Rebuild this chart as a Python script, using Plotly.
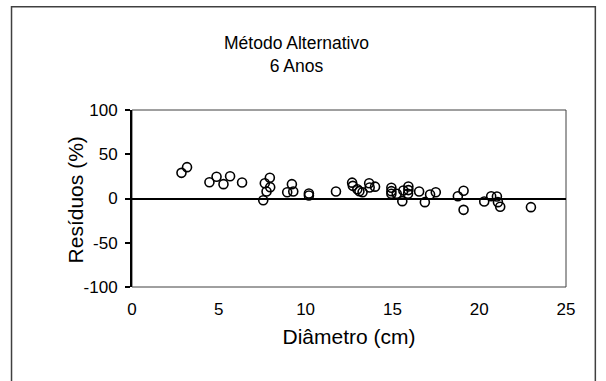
import plotly.graph_objects as go

# Diameter (cm) and residuals (%) of the alternative method, 6-year-old trees
diametro = [2.85, 3.17, 4.46, 4.87, 5.27, 5.65, 6.34, 7.56, 7.65, 7.75, 7.94, 7.96,
            8.94, 9.21, 9.29, 10.19, 10.19,
            11.75, 12.68, 12.72, 12.98, 13.10, 13.28, 13.66, 13.69, 14.00,
            14.94, 14.94, 14.94, 15.25, 15.57, 15.63, 15.92, 15.92, 15.90,
            16.54, 16.87, 17.17, 17.50, 18.77, 19.10, 19.10,
            20.29, 20.69, 21.02, 21.08, 21.21, 22.98]
residuos = [29.0, 35.4, 18.4, 24.5, 16.2, 25.2, 18.1, -1.9, 17.3, 7.9, 23.4, 12.8,
            7.1, 16.2, 7.9, 5.6, 3.4,
            7.9, 17.9, 14.3, 10.5, 8.3, 7.0, 17.2, 12.5, 13.4,
            12.1, 8.3, 5.3, 5.3, -3.0, 9.0, 13.6, 9.5, 5.3,
            7.9, -4.1, 4.5, 7.1, 2.6, 8.7, -12.8,
            -3.4, 2.6, 2.3, -4.1, -9.4, -9.8]

x_ticks = [0, 5, 10, 15, 20, 25]
y_ticks = [-100, -50, 0, 50, 100]
y_tick_labels = ["-100", "-50", "0", "50", "100"]

titulo = "Método Alternativo<br>6 Anos"
x_titulo = "Diâmetro (cm)"
y_titulo = "Resíduos (%)"

FONT = "Liberation Sans, Arial, sans-serif"

fig = go.Figure()
fig.add_trace(go.Scatter(
    x=diametro, y=residuos, mode="markers",
    marker=dict(symbol="circle-open", size=9, color="black",
                line=dict(width=1.6, color="black")),
    cliponaxis=False, showlegend=False,
))

fig.update_layout(
    width=606, height=381,
    margin=dict(l=132, r=40, t=110, b=94),
    paper_bgcolor="white", plot_bgcolor="white",
    font=dict(family=FONT, color="black", size=17),
    xaxis=dict(range=[0, 25], tickvals=x_ticks, ticks="", showgrid=False,
               zeroline=False, showline=False, ticklabelstandoff=10,
               tickfont=dict(size=17),
               title=dict(text=x_titulo, font=dict(size=21), standoff=11)),
    yaxis=dict(range=[-100, 100], tickvals=y_ticks, ticktext=y_tick_labels,
               ticks="outside", ticklen=5, ticklabelstandoff=4,
               tickwidth=1.5, tickcolor="black", showgrid=False,
               showline=True, linecolor="black", linewidth=2,
               zeroline=True, zerolinecolor="black", zerolinewidth=2,
               tickfont=dict(size=17)),
    shapes=[
        # plot-area frame
        dict(type="rect", xref="paper", yref="paper", x0=0, x1=1, y0=0, y1=1,
             line=dict(color="#404040", width=1), layer="below"),
        # chart-area frame
        dict(type="rect", xref="paper", yref="paper", x0=-0.2776, x1=1.0676,
             y0=-0.7, y1=1.583, line=dict(color="#404040", width=1.5)),
    ],
    annotations=[
        dict(text=titulo, xref="paper", yref="paper", x=0.38, y=1.315,
             xanchor="center", yanchor="middle", showarrow=False,
             font=dict(size=17.5)),
        # y-axis title
        dict(text=y_titulo, xref="paper", yref="paper", x=-0.131, y=0.49,
             xanchor="center", yanchor="middle", showarrow=False,
             textangle=-90, font=dict(size=21)),
    ],
)

fig.write_html("out.html")
